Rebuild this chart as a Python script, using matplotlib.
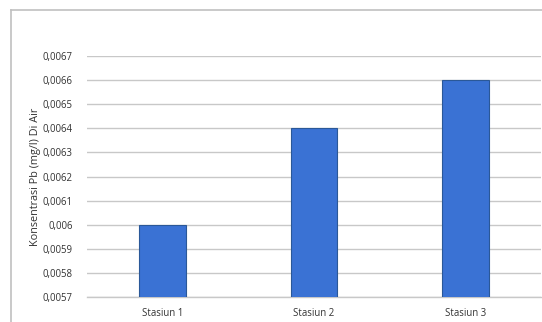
import matplotlib.pyplot as plt
from matplotlib.ticker import FuncFormatter, MultipleLocator
from matplotlib.lines import Line2D

stations = ["Stasiun 1", "Stasiun 2", "Stasiun 3"]
pb_values = [0.0060, 0.0064, 0.0066]
y_min, y_max, y_step = 0.0057, 0.0067, 0.0001

plt.rcParams['font.family'] = ['Open Sans', 'DejaVu Sans']

fig = plt.figure(figsize=(5.42, 3.22), dpi=100)
ax = fig.add_axes([86.75 / 542, 25 / 322, (541.25 - 86.75) / 542, 241 / 322])

x = range(len(stations))
ax.bar(x, pb_values, width=0.31, color="#3a72d4", edgecolor="#2a5898",
       linewidth=0.8, zorder=3)

ax.set_xlim(-0.5, len(stations) - 0.5)
ax.set_ylim(y_min, y_max)
ax.yaxis.set_major_locator(MultipleLocator(y_step))

def comma_fmt(v, pos):
    s = f"{v:.4f}".rstrip("0").rstrip(".")
    return s.replace(".", ",")

ax.yaxis.set_major_formatter(FuncFormatter(comma_fmt))
ax.set_xticks(list(x))
ax.set_xticklabels(stations)
ax.grid(axis="y", color="#c8c8c8", linewidth=1.0, zorder=0)
for side in ("top", "right", "left"):
    ax.spines[side].set_visible(False)
ax.spines["bottom"].set_color("#c8c8c8")
ax.spines["bottom"].set_linewidth(1.0)
ax.tick_params(axis="both", length=0, labelsize=6.9, colors="#333333")
ax.tick_params(axis="y", pad=10)
ax.tick_params(axis="x", pad=8)
ax.set_ylabel("Konsentrasi Pb (mg/l) Di Air", fontsize=7.8, color="#333333",
              labelpad=1)

# outer chart border (top and left edges)
fig.add_artist(Line2D([11 / 542, 11 / 542], [0, 1 - 10 / 322],
                      transform=fig.transFigure, color="#c0c0c0", linewidth=1.2))
fig.add_artist(Line2D([11 / 542, 1], [1 - 10 / 322, 1 - 10 / 322],
                      transform=fig.transFigure, color="#c0c0c0", linewidth=1.2))

fig.savefig("out.png", dpi=100, facecolor="white")
